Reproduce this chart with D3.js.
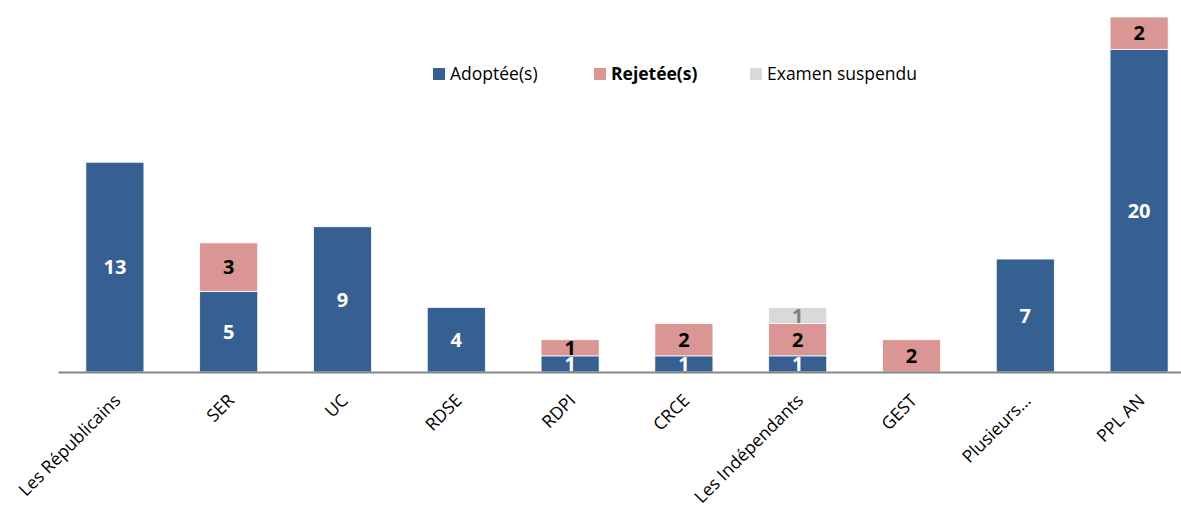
<!DOCTYPE html>
<html>
<head>
<meta charset="utf-8">
<script src="https://cdn.jsdelivr.net/npm/d3@7"></script>
<style>
  body { margin: 0; background: #fff; }
  text { font-family: "Open Sans", "Noto Sans", sans-serif; }
</style>
</head>
<body>
<div id="chart"></div>
<script>
// data
var groups = ["Les Républicains", "SER", "UC", "RDSE", "RDPI", "CRCE", "Les Indépendants", "GEST", "Plusieurs...", "PPL AN"];
var adoptees = [13, 5, 9, 4, 1, 1, 1, 0, 7, 20];
var rejetees = [0, 3, 0, 0, 1, 2, 2, 2, 0, 2];
var suspendus = [0, 0, 0, 0, 0, 0, 1, 0, 0, 0];
var seriesNames = ["Adoptée(s)", "Rejetée(s)", "Examen suspendu"];

var width = 1181, height = 505;
var colors = ["#376092", "#d99694", "#d9d9d9"];
var labelColors = ["#ffffff", "#000000", "#808080"];

var svg = d3.select("#chart")
  .append("svg")
  .attr("width", width)
  .attr("height", height);

var rows = groups.map(function(g, i) {
  return {group: g, a: adoptees[i], r: rejetees[i], s: suspendus[i]};
});
var stack = d3.stack().keys(["a", "r", "s"])(rows);

var x = d3.scaleBand()
  .domain(groups)
  .range([58, 1196])
  .paddingInner(0.49)
  .paddingOuter(0.245);

var y = d3.scaleLinear()
  .domain([0, 22])
  .range([372, 17]);

// bars
var layers = svg.append("g")
  .selectAll("g")
  .data(stack)
  .enter()
  .append("g")
    .attr("fill", function(d, i) { return colors[i]; });

layers.selectAll("rect")
  .data(function(d) { return d; })
  .enter()
  .filter(function(d) { return d[1] - d[0] > 0; })
  .append("rect")
    .attr("x", function(d) { return x(d.data.group); })
    .attr("y", function(d) { return y(d[1]); })
    .attr("width", x.bandwidth())
    .attr("height", function(d) { return y(d[0]) - y(d[1]); })
    .attr("stroke", "#ffffff")
    .attr("stroke-width", 0.75);

// value labels
stack.forEach(function(layer, i) {
  svg.append("g")
    .selectAll("text")
    .data(layer.filter(function(d) { return d[1] - d[0] > 0; }))
    .enter()
    .append("text")
      .attr("x", function(d) { return x(d.data.group) + x.bandwidth() / 2; })
      .attr("y", function(d) { return (y(d[0]) + y(d[1])) / 2; })
      .attr("dy", "0.36em")
      .attr("text-anchor", "middle")
      .style("font-size", "20px")
      .style("font-weight", "bold")
      .style("fill", labelColors[i])
      .text(function(d) { return d[1] - d[0]; });
});

// x axis
var xAxis = svg.append("g")
  .attr("transform", "translate(0,372)")
  .call(d3.axisBottom(x).tickSize(0).tickSizeOuter(0).tickFormat(""));
xAxis.select(".domain").attr("stroke", "#868686").attr("stroke-width", 2);

svg.append("g")
  .selectAll("text")
  .data(groups)
  .enter()
  .append("text")
    .attr("transform", function(d) {
      return "translate(" + (x(d) + x.bandwidth() / 2 - 2) + ",393) rotate(-45)";
    })
    .attr("text-anchor", "end")
    .attr("dy", "0.7em")
    .style("font-size", "17.5px")
    .style("fill", "#000")
    .text(function(d) { return d; });

// legend
var legendX = [433, 594, 750];
var legend = svg.append("g")
  .selectAll("g")
  .data(seriesNames)
  .enter()
  .append("g")
    .attr("transform", function(d, i) { return "translate(" + legendX[i] + ",68)"; });
legend.append("rect")
  .attr("width", 12)
  .attr("height", 12)
  .attr("fill", function(d, i) { return colors[i]; });
legend.append("text")
  .attr("x", 17)
  .attr("y", 6)
  .attr("dy", "0.35em")
  .style("font-size", "17.5px")
  .style("font-weight", function(d, i) { return i === 1 ? "bold" : "normal"; })
  .text(function(d) { return d; });
</script>
</body>
</html>
